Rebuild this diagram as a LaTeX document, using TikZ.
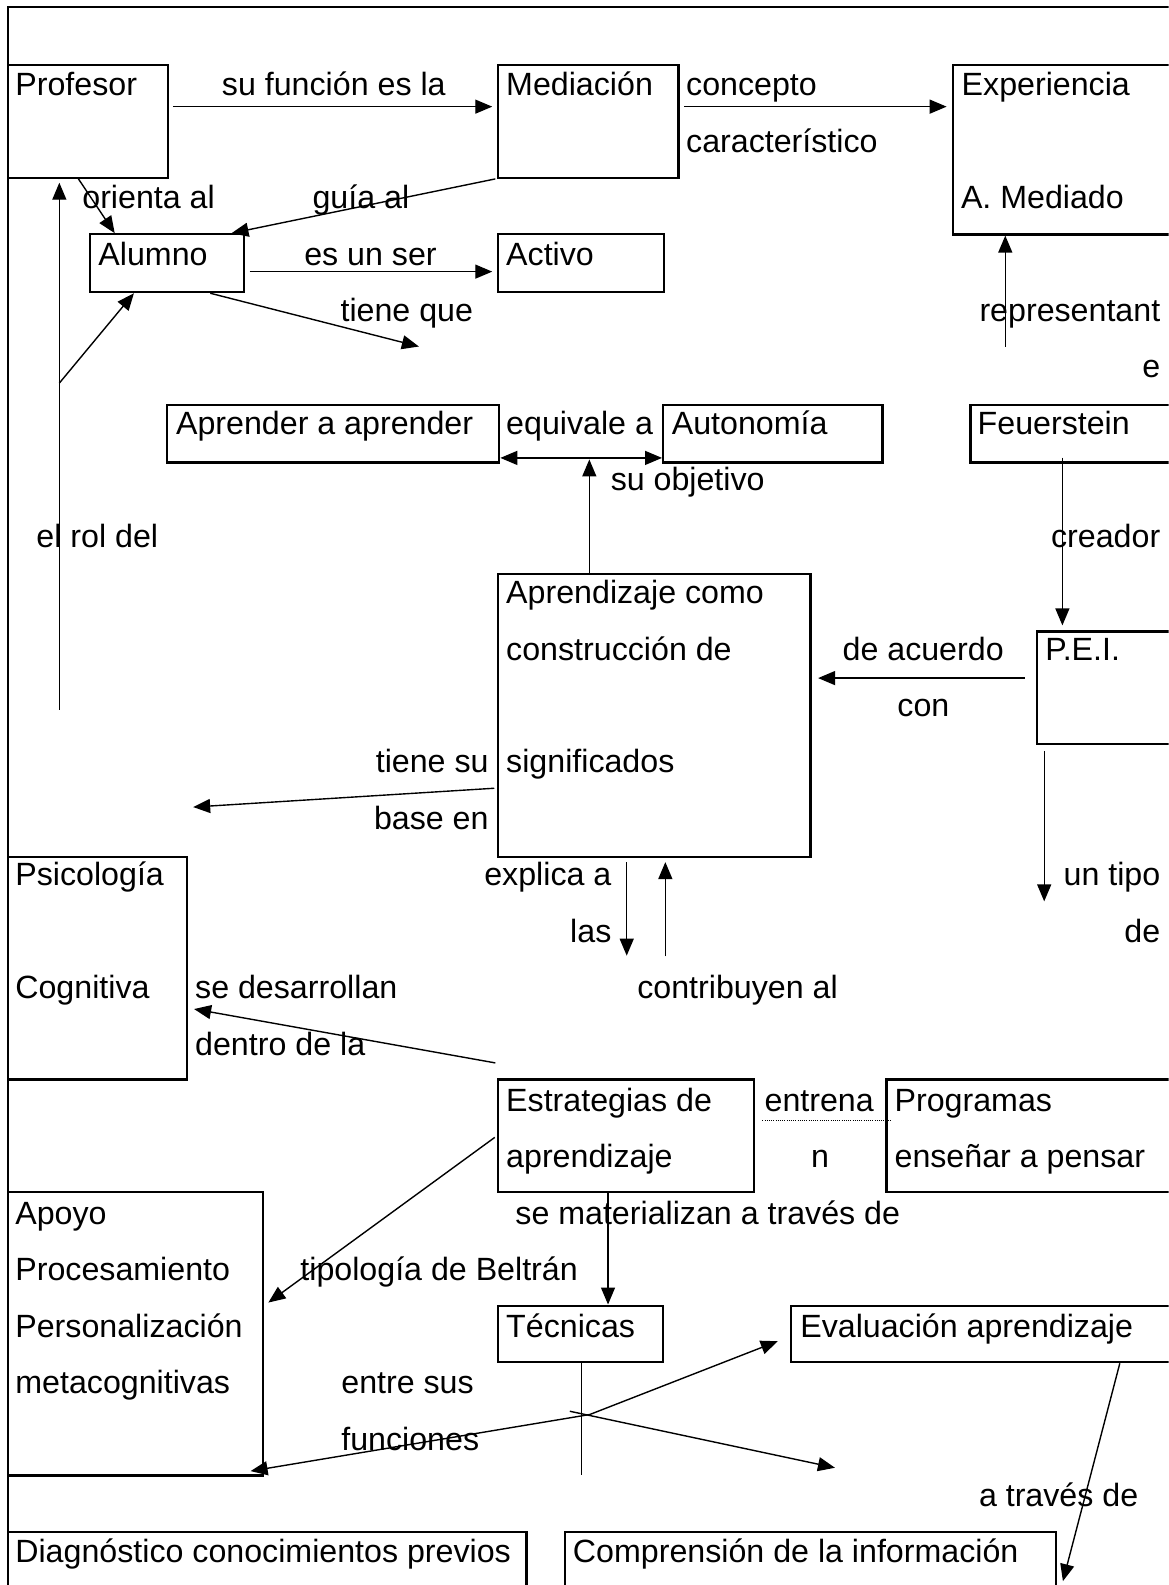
\documentclass[tikz,border=0pt]{standalone}
\usepackage{fontspec}
\setmainfont{Liberation Sans}
\usetikzlibrary{arrows.meta,fit}
\begin{document}
\begin{tikzpicture}[x=1.0112pt,y=-1.0112pt,
  font=\fontsize{32.2pt}{38pt}\selectfont,
  box/.style={draw,line width=2.2pt,inner sep=0pt,fit={#1}},
  frame/.style={draw,line width=2.2pt},
  lbl/.style={inner sep=0pt,anchor=base west},
  lblr/.style={inner sep=0pt,anchor=base east},
  lblc/.style={inner sep=0pt,anchor=base},
  link/.style={line width=1.4pt},
  arr/.style={link,-{Triangle[length=17pt,width=14pt]}},
  dbl/.style={link,{Triangle[length=17pt,width=14pt]}-{Triangle[length=17pt,width=14pt]}},
  dotline/.style={line width=0.8pt,dash pattern=on 1pt off 1.2pt}]

\clip (0,0) rectangle (1156,1568);

% page frame
\draw[frame] (7.6,7.3) rectangle (1220,1640);

% concept boxes
\node[box={(7.6,64.3) (166.5,175.9)}] (prof) {};
\node[box={(493,64.3) (671.3,175.9)}] (med) {};
\node[box={(943,64.3) (1200,232)}] (exp) {};
\node[box={(88.9,231.8) (241,289)}] (alum) {};
\node[box={(493,231.8) (657,289)}] (act) {};
\node[box={(165.4,400.3) (493.9,457.5)}] (apr) {};
\node[box={(656,400.3) (873,457.5)}] (aut) {};
\node[box={(960,400.3) (1200,457.5)}] (feu) {};
\node[box={(493,567.6) (801.7,847.8)}] (apz) {};
\node[box={(1026,624.7) (1200,736)}] (pei) {};
\node[box={(7.6,847.8) (184.7,1068)}] (psi) {};
\node[box={(493,1068) (745.7,1179.5)}] (est) {};
\node[box={(877,1068) (1200,1179.5)}] (prog) {};
\node[box={(7.6,1179.5) (260.4,1459.6)}] (apo) {};
\node[box={(493,1291.6) (656,1347.6)}] (tec) {};
\node[box={(782.7,1291.6) (1200,1347.6)}] (eva) {};
\node[box={(7.6,1515.7) (520.8,1640)}] (diag) {};
\node[box={(558.7,1515.7) (1045,1640)}] (comp) {};

% texts
\node[lbl] (l-prof) at (15,94.8) {Profesor};
\node[lbl] (l-func) at (219.4,94.8) {su función es la};
\node[lbl] (l-med) at (500.6,94.8) {Mediación};
\node[lbl] (l-conc) at (678.6,94.8) {concepto};
\node[lbl] (l-exp) at (951.2,94.8) {Experiencia};
\node[lbl] (l-car) at (678.6,150.6) {característico};
\node[lbl] (l-ori) at (81.3,206.4) {orienta al};
\node[lbl] (l-gui) at (309,206.4) {guía al};
\node[lbl] (l-amed) at (950.5,206.4) {A. Mediado};
\node[lbl] (l-alum) at (97.2,262.3) {Alumno};
\node[lbl] (l-ser) at (300.8,262.3) {es un ser};
\node[lbl] (l-act) at (500.6,262.3) {Activo};
\node[lbl] (l-tq) at (336.7,318.1) {tiene que};
\node[lblr] (l-rep) at (1148,318.1) {representant};
\node[lblr] (l-rep2) at (1148,373.9) {e};
\node[lbl] (l-apr) at (174,429.7) {Aprender a aprender};
\node[lbl] (l-equ) at (500.6,429.7) {equivale a};
\node[lbl] (l-aut) at (664.4,429.7) {Autonomía};
\node[lbl] (l-feu) at (967,429.7) {Feuerstein};
\node[lbl] (l-obj) at (604,485.5) {su objetivo};
\node[lbl] (l-rol) at (35.9,541.4) {el rol del};
\node[lblr] (l-cre) at (1148,541.4) {creador};
\node[lbl] (l-apz1) at (500.6,597.2) {Aprendizaje como};
\node[lbl] (l-apz2) at (500.6,653.0) {construcción de};
\node[lbl] (l-acu) at (833.4,653.0) {de acuerdo};
\node[lbl] (l-pei) at (1034,653.0) {P.E.I.};
\node[lblc] (l-con) at (913.5,708.8) {con};
\node[lblr] (l-ts) at (483.5,764.6) {tiene su};
\node[lbl] (l-apz3) at (500.6,764.6) {significados};
\node[lblr] (l-be) at (483.5,820.5) {base en};
\node[lbl] (l-psi) at (15,876.3) {Psicología};
\node[lblr] (l-exa) at (605,876.3) {explica a};
\node[lblr] (l-tipo) at (1148,876.3) {un tipo};
\node[lblr] (l-las) at (605,932.1) {las};
\node[lblr] (l-de) at (1148,932.1) {de};
\node[lbl] (l-cog) at (15,987.9) {Cognitiva};
\node[lbl] (l-des) at (192.9,987.9) {se desarrollan};
\node[lbl] (l-contr) at (630.3,987.9) {contribuyen al};
\node[lbl] (l-den) at (192.9,1043.7) {dentro de la};
\node[lbl] (l-est1) at (500.6,1099.6) {Estrategias de};
\node[lbl] (l-ent) at (756.2,1099.6) {entrena};
\node[lbl] (l-prog1) at (884.8,1099.6) {Programas};
\node[lbl] (l-est2) at (500.6,1155.4) {aprendizaje};
\node[lblc] (l-n) at (811.3,1155.4) {n};
\node[lbl] (l-prog2) at (884.8,1155.4) {enseñar a pensar};
\node[lbl] (l-apo1) at (15,1211.2) {Apoyo};
\node[lbl] (l-mat) at (509.7,1211.2) {se materializan a través de};
\node[lbl] (l-apo2) at (15,1267.0) {Procesamiento};
\node[lbl] (l-bel) at (297,1267.0) {tipología de Beltrán};
\node[lbl] (l-apo3) at (15,1322.8) {Personalización};
\node[lbl] (l-tec) at (500.6,1322.8) {Técnicas};
\node[lbl] (l-eva) at (791.5,1322.8) {Evaluación aprendizaje};
\node[lbl] (l-apo4) at (15,1378.7) {metacognitivas};
\node[lbl] (l-ess) at (337.5,1378.7) {entre sus};
\node[lbl] (l-fun) at (337.5,1434.5) {funciones};
\node[lbl] (l-atr) at (968.3,1490.3) {a través de};
\node[lbl] (l-diag) at (15,1546.1) {Diagnóstico conocimientos previos};
\node[lbl] (l-comp) at (566.6,1546.1) {Comprensión de la información};

% free ends of connectors
\coordinate (tq) at (414.4,342.8);
\coordinate (rolfoot) at (58.7,702);
\coordinate (rolfork) at (58.7,379);
\coordinate (obj) at (583,454.5);
\coordinate (repfoot) at (994.5,343);
\coordinate (tipo) at (1033,891.7);
\coordinate (base) at (191.1,798.4);
\coordinate (las) at (620,945.4);
\coordinate (contrib) at (658.2,946);
\coordinate (desfoot) at (490,1051.5);
\coordinate (hub) at (583.5,1399.3);
\coordinate (hub2) at (563.7,1396.1);
\coordinate (tecfoot) at (575.3,1458.7);
\coordinate (funl) at (247.9,1455.3);
\coordinate (funr) at (769.4,1326.8);
\coordinate (func) at (826,1452);
\coordinate (atrav) at (1051.5,1564.2);

% connectors
\draw[arr,shorten <=3.5pt,shorten >=5pt] (prof.east |- 0,105.5) -- (med.west |- 0,105.5);
\draw[arr,shorten <=4.4pt,shorten >=5.5pt] (med.east |- 0,105.5) -- (exp.west |- 0,105.5);
\draw[arr] (77.6,0 |- prof.south) -- (113.5,0 |- alum.north);
\draw[arr] (490,0 |- med.south) -- (229,0 |- alum.north);
\draw[arr,shorten <=5pt,shorten >=5pt] (alum.east |- 0,268.7) -- (act.west |- 0,268.7);
\draw[arr] (208,0 |- alum.south) -- (tq);
\draw[arr,shorten >=3.8pt] (rolfoot) -- (58.7,0 |- prof.south);
\draw[arr] (rolfork) -- (132.5,0 |- alum.south);
\draw[dbl] (apr.east |- 0,453) -- (aut.west |- 0,453);
\draw[arr] (583,0 |- apz.north) -- (obj);
\draw[arr] (repfoot) -- (994.5,0 |- exp.south);
\draw[arr,shorten <=-6pt,shorten >=5pt] (1051,0 |- feu.south) -- (1051,0 |- pei.north);
\draw[arr,shorten <=11.5pt,shorten >=6.6pt] (pei.west |- 0,670.8) -- (apz.east |- 0,670.8);
\draw[arr,shorten <=5.7pt] (1033,0 |- pei.south) -- (tipo);
\draw[arr,shorten <=3pt] (apz.west |- 0,779.6) -- (base);
\draw[arr,shorten <=4pt] (620,0 |- apz.south) -- (las);
\draw[arr,shorten >=4pt] (contrib) -- (658.2,0 |- apz.south);
\draw[arr,shorten >=6.4pt] (desfoot) -- (psi.east |- 0,997.1);
\draw[dotline,shorten <=7.5pt,shorten >=-4.8pt] (est.east |- 0,1108.2) -- (prog.west |- 0,1108.2);
\draw[arr,shorten <=3pt,shorten >=5pt] (est.west |- 0,1123.4) -- (apo.east |- 0,1291.5);
\draw[arr] (601.5,0 |- est.south) -- (601.5,0 |- tec.north);
\draw[link] (575.3,0 |- tec.south) -- (tecfoot);
\draw[arr] (hub) -- (funl);
\draw[arr] (hub) -- (funr);
\draw[arr] (hub2) -- (func);
\draw[arr] (1107.8,0 |- eva.south) -- (atrav);
\end{tikzpicture}
\end{document}
